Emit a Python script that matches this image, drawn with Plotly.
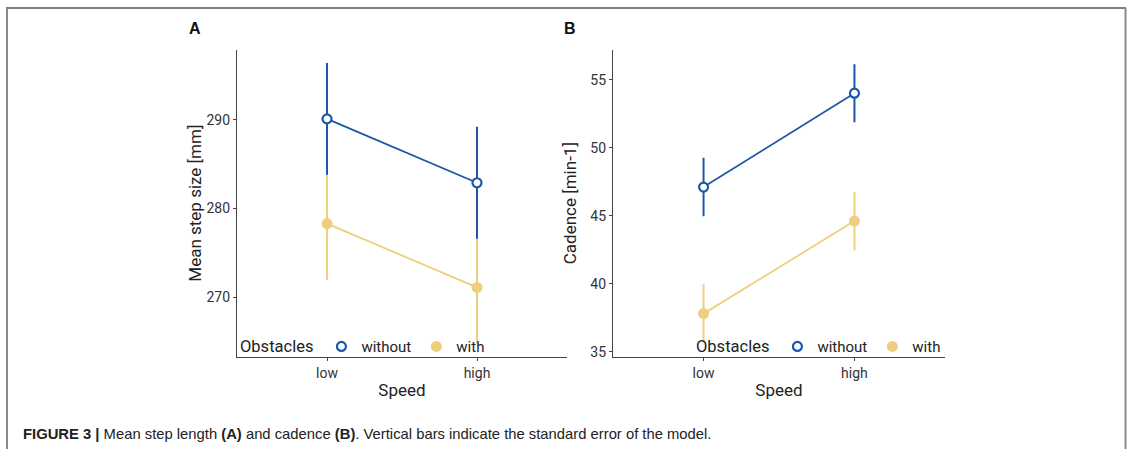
import plotly.graph_objects as go

# Speed levels shown on both panels
speed = ["low", "high"]
speed_pos = [1, 2]

# Panel A: mean step size [mm] and standard error of the model
step_without = [290.1, 282.9]
step_without_se = [6.3, 6.3]
step_with = [278.3, 271.1]
step_with_se = [6.35, 6.35]

# Panel B: cadence [min-1] and standard error of the model
cad_without = [47.1, 54.0]
cad_without_se = [2.15, 2.13]
cad_with = [37.8, 44.6]
cad_with_se = [2.15, 2.14]

step_ticks = [270, 280, 290]
cad_ticks = [35, 40, 45, 50, 55]

BLUE = "#1d58a6"
YELLOW = "#efcf7d"
W, H = 1127, 452


def px_x(v):
    return v / W


def px_y(v):
    return 1 - v / H


fig = go.Figure()


def add_series(y, se, xa, ya, color, hollow, name):
    fig.add_trace(go.Scatter(
        x=speed_pos, y=y, xaxis=xa, yaxis=ya, name=name, showlegend=False,
        mode="lines+markers",
        line=dict(color=color, width=1.8),
        error_y=dict(type="data", array=se, visible=True, color=color,
                     thickness=2, width=0),
        marker=dict(size=9 if hollow else 11, symbol="circle",
                    color="white" if hollow else color,
                    line=dict(color=color, width=2.2 if hollow else 0)),
    ))


# "with" drawn first so the "without" series sits on top
add_series(step_with, step_with_se, "x", "y", YELLOW, False, "with")
add_series(step_without, step_without_se, "x", "y", BLUE, True, "without")
add_series(cad_with, cad_with_se, "x2", "y2", YELLOW, False, "with")
add_series(cad_without, cad_without_se, "x2", "y2", BLUE, True, "without")

# legend keys for each panel
for lg, xa, ya in [("legend", "x", "y"), ("legend2", "x2", "y2")]:
    fig.add_trace(go.Scatter(
        x=[None], y=[None], xaxis=xa, yaxis=ya, mode="markers", name="without",
        legend=lg,
        marker=dict(size=9, color="white", line=dict(color=BLUE, width=2.2))))
    fig.add_trace(go.Scatter(
        x=[None], y=[None], xaxis=xa, yaxis=ya, mode="markers", name="with",
        legend=lg, marker=dict(size=11, color=YELLOW, line=dict(width=0))))

axis_common = dict(
    showline=True, linecolor="#444444", linewidth=1.3,
    showgrid=False, zeroline=False,
    ticks="outside", ticklen=3, tickwidth=1, tickcolor="#444444",
    tickfont=dict(size=14, color="#333333"),
)

xcommon = dict(axis_common, range=[0.4, 2.6], tickvals=speed_pos, ticktext=speed,
               title=dict(text="Speed", font=dict(size=17, color="#222222"), standoff=4))

legend_common = dict(
    orientation="h", y=px_y(349), yanchor="middle",
    bgcolor="rgba(0,0,0,0)", itemwidth=30, tracegroupgap=0,
    font=dict(size=15, color="#222222"),
    title=dict(text="Obstacles", side="left", font=dict(size=16.5, color="#222222")),
)

fig.update_layout(
    width=W, height=H,
    margin=dict(l=0, r=0, t=0, b=0),
    paper_bgcolor="white", plot_bgcolor="white",
    font=dict(family="Roboto", color="#222222"),
    xaxis=dict(xcommon, domain=[px_x(237), px_x(567)], anchor="y"),
    yaxis=dict(axis_common, domain=[px_y(359), px_y(50)], anchor="x",
               range=[263.3, 297.9], tickvals=step_ticks,
               title=dict(text="Mean step size [mm]",
                          font=dict(size=17, color="#222222"), standoff=0)),
    xaxis2=dict(xcommon, domain=[px_x(613), px_x(945)], anchor="y2"),
    yaxis2=dict(axis_common, domain=[px_y(359), px_y(50)], anchor="x2",
                range=[34.64, 57.2], tickvals=cad_ticks,
                title=dict(text="Cadence [min-1]",
                           font=dict(size=17, color="#222222"), standoff=9)),
    legend=dict(legend_common, x=px_x(238), xanchor="left"),
    legend2=dict(legend_common, x=px_x(946), xanchor="right"),
)

# panel letters
for letter, xpx in [("A", 187), ("B", 562)]:
    fig.add_annotation(text=f"<b>{letter}</b>", x=px_x(xpx), y=px_y(29),
                       xref="paper", yref="paper", xanchor="left", yanchor="middle",
                       showarrow=False,
                       font=dict(family="Liberation Sans", size=16, color="#111111"))

# caption
fig.add_annotation(
    text="<b>FIGURE 3 |</b> Mean step length <b>(A)</b> and cadence <b>(B)</b>. "
         "Vertical bars indicate the standard error of the model.",
    x=px_x(21), y=px_y(437), xref="paper", yref="paper",
    xanchor="left", yanchor="middle", showarrow=False,
    font=dict(family="Liberation Sans", size=14.8, color="#222222"))

# figure frame: top rule and side rules
frame = dict(xref="paper", yref="paper", type="line")
fig.add_shape(frame, x0=px_x(6), x1=px_x(1126), y0=px_y(8), y1=px_y(8),
              line=dict(color="#555555", width=1.5))
fig.add_shape(frame, x0=px_x(7), x1=px_x(7), y0=px_y(8), y1=0,
              line=dict(color="#8a8a8a", width=2))
fig.add_shape(frame, x0=px_x(1125.5), x1=px_x(1125.5), y0=px_y(8), y1=0,
              line=dict(color="#8a8a8a", width=2))

fig.write_html("out.html")
